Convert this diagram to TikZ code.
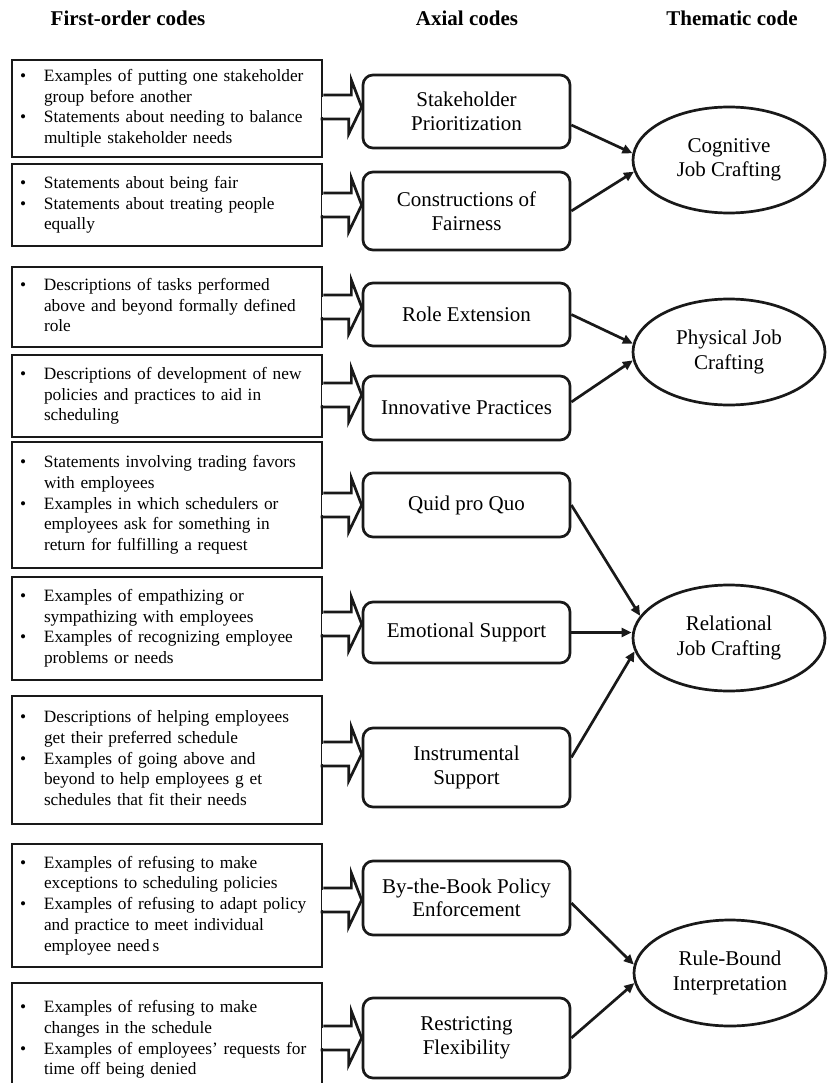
\documentclass[tikz,border=0pt]{standalone}
\usepackage{fontspec}
\setmainfont{Liberation Serif}
\usetikzlibrary{arrows.meta,shapes.geometric,calc}
\newcommand{\blist}[1]{\begin{tabular}{@{}p{24pt}@{}l@{}}#1\end{tabular}}
\newcommand{\bu}{\textbullet}
\newcommand\barrow[3]{%
  \coordinate (#1m) at (0,#3);
  \fill[white] (#1.east |- #1m) ++(-1.8,-10.4) rectangle ++(3.6,20.8);
  \draw[conn,line join=miter] (#1.east |- #1m) ++(0,-12) -- ++(28,0) -- ++(0,-15) -- (#2.west |- #1m) -- ++(-13,27) -- ++(0,-15) -- ++(-28,0);
}
\tikzset{
  conn/.style={line width=2.7pt, black!90},
  lbox/.style={draw=black!90, line width=2.7pt, text width=294pt, inner xsep=8pt, inner ysep=0pt, align=left, font=\fontsize{17.3}{20.7}\selectfont},
  abox/.style={draw=black!90, fill=white, rounded corners=10pt, line width=2.7pt, minimum width=207pt, align=center, inner sep=0pt, font=\fontsize{21}{23.5}\selectfont},
  ell/.style={draw=black!90, fill=white, ellipse, line width=2.7pt, minimum width=192pt, minimum height=106pt, align=center, inner sep=0pt, font=\fontsize{21}{24.5}\selectfont},
  carrow/.style={line width=2.7pt, black!90, -{Triangle[length=10pt,width=9pt]}},
  hdr/.style={font=\fontsize{21}{24}\selectfont\bfseries}
}
\begin{document}
\begin{tikzpicture}[x=1pt,y=-1pt]
\useasboundingbox (0,0) rectangle (829,1083);
% headers
\node[hdr] (h1) at (128,18) {First-order codes};
\node[hdr] (h2) at (467,18) {Axial codes};
\node[hdr] (h3) at (732,18) {Thematic code};
% left boxes
\node[lbox, minimum height=97pt] (L1) at (167,108.5) {\blist{\bu & Examples of putting one stakeholder\\ & group before another\\ \bu & Statements about needing to balance\\ & multiple stakeholder needs}};
\node[lbox, minimum height=82pt] (L2) at (167,205) {\blist{\bu & Statements about being fair\\ \bu & Statements about treating people\\ & equally}};
\node[lbox, minimum height=80pt] (L3) at (167,307) {\blist{\bu & Descriptions of tasks performed\\ & above and beyond formally defined\\ & role}};
\node[lbox, minimum height=82pt] (L4) at (167,396) {\blist{\bu & Descriptions of development of new\\ & policies and practices to aid in\\ & scheduling}};
\node[lbox, minimum height=126pt] (L5) at (167,505) {\blist{\bu & Statements involving trading favors\\ & with employees\\ \bu & Examples in which schedulers or\\ & employees ask for something in\\ & return for fulfilling a request}};
\node[lbox, minimum height=103pt] (L6) at (167,628.5) {\blist{\bu & Examples of empathizing or\\ & sympathizing with employees\\ \bu & Examples of recognizing employee\\ & problems or needs}};
\node[lbox, minimum height=128pt] (L7) at (167,760) {\blist{\bu & Descriptions of helping employees\\ & get their preferred schedule\\ \bu & Examples of going above and\\ & beyond to help employees g et\\ & schedules that fit their needs}};
\node[lbox, minimum height=123pt] (L8) at (167,905.5) {\blist{\bu & Examples of refusing to make\\ & exceptions to scheduling policies\\ \bu & Examples of refusing to adapt policy\\ & and practice to meet individual\\ & employee need\,s}};
\node[lbox, minimum height=134pt] (L9) at (167,1050) {\blist{\bu & Examples of refusing to make\\ & changes in the schedule\\ \bu & Examples of employees' requests for\\ & time off being denied\\ & }};
% axial box positions
\path (466.5,111.5) coordinate (pA1) (466.5,211) coordinate (pA2) (466.5,314.5) coordinate (pA3)
      (466.5,408) coordinate (pA4) (466.5,505) coordinate (pA5) (466.5,632.5) coordinate (pA6)
      (466.5,767.5) coordinate (pA7) (466.5,898) coordinate (pA8) (466.5,1038) coordinate (pA9);
\node[abox, minimum height=73pt, opacity=0] (A1) at (pA1) {};
\node[abox, minimum height=78pt, opacity=0] (A2) at (pA2) {};
\node[abox, minimum height=63pt, opacity=0] (A3) at (pA3) {};
\node[abox, minimum height=64pt, opacity=0] (A4) at (pA4) {};
\node[abox, minimum height=64pt, opacity=0] (A5) at (pA5) {};
\node[abox, minimum height=61pt, opacity=0] (A6) at (pA6) {};
\node[abox, minimum height=79pt, opacity=0] (A7) at (pA7) {};
\node[abox, minimum height=74pt, opacity=0] (A8) at (pA8) {};
\node[abox, minimum height=80pt, opacity=0] (A9) at (pA9) {};
% block arrows
\barrow{L1}{A1}{107}
\barrow{L2}{A2}{205}
\barrow{L3}{A3}{307}
\barrow{L4}{A4}{395}
\barrow{L5}{A5}{505}
\barrow{L6}{A6}{624}
\barrow{L7}{A7}{754}
\barrow{L8}{A8}{900}
\barrow{L9}{A9}{1038}
% axial boxes drawn
\node[abox, minimum height=73pt] (B1) at (pA1) {Stakeholder\\Prioritization};
\node[abox, minimum height=78pt] (B2) at (pA2) {Constructions of\\Fairness};
\node[abox, minimum height=63pt] (B3) at (pA3) {Role Extension};
\node[abox, minimum height=64pt] (B4) at (pA4) {Innovative Practices};
\node[abox, minimum height=64pt] (B5) at (pA5) {Quid pro Quo};
\node[abox, minimum height=61pt] (B6) at (pA6) {Emotional Support};
\node[abox, minimum height=79pt] (B7) at (pA7) {Instrumental\\Support};
\node[abox, minimum height=74pt] (B8) at (pA8) {By-the-Book Policy\\Enforcement};
\node[abox, minimum height=80pt] (B9) at (pA9) {Restricting\\Flexibility};
% thematic
\node[ell] (Cog) at (729,160) {Cognitive\\Job Crafting};
\node[ell] (Phys) at (729,352) {Physical Job\\Crafting};
\node[ell] (Rel) at (729,638) {Relational\\Job Crafting};
\node[ell] (Rule) at (730,973) {Rule-Bound\\Interpretation};
% connectors
\draw[carrow] ([yshift=-13.5pt]B1.east) -- (Cog.176);
\draw[carrow] (B2.east) -- (Cog.187);
\draw[carrow] (B3.east) -- (Phys.175);
\draw[carrow] ([yshift=6pt]B4.east) -- (Phys.185);
\draw[carrow] (B5.east) -- (Rel.166);
\draw[carrow] (B6.east) -- (B6.east -| Rel.west);
\draw[carrow] ([yshift=10pt]B7.east) -- (Rel.188);
\draw[carrow] ([yshift=-5pt]B8.east) -- (Rule.175);
\draw[carrow] (B9.east) -- (Rule.186);
\end{tikzpicture}
\end{document}
